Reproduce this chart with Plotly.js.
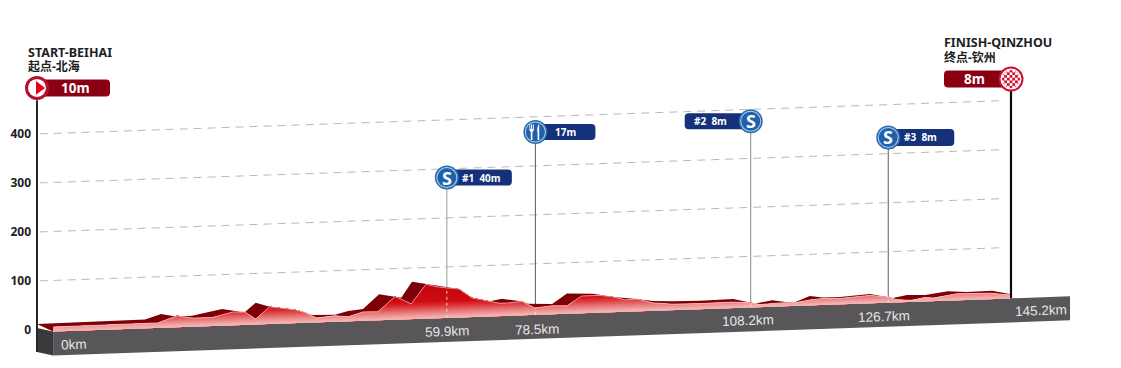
<!DOCTYPE html>
<html><head><meta charset="utf-8">
<script src="https://cdn.plot.ly/plotly-3.0.1.min.js"></script>
<style>html,body{margin:0;padding:0;background:#fff}#c{width:1121px;height:368px}</style>
</head><body><div id="c"></div>
<script>
// Values. Km along the drawn axis; metres above the tilted zero line.
const frontKm=[2.4,18,20.9,23.3,26.1,29.2,31,32.6,34.7,38.5,39.7,41.7,44.4,46.4,48.6,50.8,53.4,55.8,58,59.6,61.1,62.9,64.8,69,70.1,72.3,74.2,76.8,79,81.2,83.9,85.9,87.7,89.4,91.8,94.8,98.8,103.8,106.6,107.8,110.8,113,115.2,117.2,119.7,124.2,126.9,128.2,130.4,132.4,133.6,137.1,142.1,145];
const frontElev=[5,6,19,13,13,23,22,7,31,23,18,5,8,5,14,13,43,27,66,60,57,54,35,22,22,24,10,13,12,31,31,27,20,21,12,8,7,8,5,1,3,2,7,9,8,12,7,1,-1,4,2,9,8,3];
const backKm=[0,16.1,18.5,20.9,23.1,27.6,30.3,31,32.6,34.7,41.1,44.4,46.4,48.6,51,53.4,54.3,55.9,59.6,62.9,64.8,67.5,69.3,72.3,73.2,76.8,79,82.9,85.9,87.4,89.4,91.8,94.8,98.8,103.8,106.6,107.3,109.6,112.7,115.2,117.2,119.7,124.2,126.9,127.6,129.7,132.4,135.8,138.6,142.4,145];
const backElev=[12,14,24,17,18,30,23,22,40,31,11,10,17,20,49,43,40,72,62,54,35,27,31,24,19,17,37,35,27,25,21,16,14,13,14,5,4,9,2,15,11,11,15,7,5,10,9,15,12,13,5];
const yTicks=[0,100,200,300,400];
const stationKm=[61.1,74.3,106.4,126.9];
const stationGround=[57,10,5,7];
const stationHeight=[311,404,426,393];
const stationStem=['#9a9a9a','#5c5c5c','#888888','#5c5c5c'];
const stationLabels=['#1  40m','17m','#2  8m','#3  8m'];
const kmLabels=['0km','59.9km','78.5km','108.2km','126.7km','145.2km'];
const kmLabelX=[5.5,61.1,74.6,106,126.3,149.7];
const kmLabelY=[-29,-4,2,19,28,40];
const finishKm=145.2;
const SKEW=0.4723, FLOOR_TOP=-4, FLOOR_BOTTOM=-53, FLOOR_END=154;
const tilt=(k,e)=>e+SKEW*k;
const FONT='"Noto Sans","Noto Sans CJK SC",sans-serif';

const traces=[];
const poly=(xs,es,color)=>traces.push({type:'scatter',mode:'lines',x:xs,y:xs.map((k,i)=>tilt(k,es[i])),fill:'toself',fillcolor:color,line:{width:0},hoverinfo:'skip'});
const line=(xs,ys,color,width,dash)=>traces.push({type:'scatter',mode:'lines',x:xs,y:ys,line:{color,width,dash:dash||'solid'},hoverinfo:'skip'});
const mark=(x,y,sym,size,color)=>traces.push({type:'scatter',mode:'markers',x:[x],y:[y],marker:{symbol:sym,size,color,line:{width:0}},hoverinfo:'skip'});

// dashed elevation grid
yTicks.slice(1).forEach(v=>line([0.4,144.3],[tilt(0.4,v),tilt(144.3,v)],'#b8b8b8',1,'8px,6px'));
// stems behind the ridge
line([finishKm,finishKm],[490,tilt(finishKm,-4)],'#0c0c0c',2.2);
stationKm.forEach((k,i)=>line([k,k],[stationHeight[i],tilt(k,stationGround[i])],stationStem[i],1));
// floor
poly([0,2.4,2.4,0,0],[4,FLOOR_TOP,FLOOR_BOTTOM,-45,4],'#3b393c');
poly([2.4,FLOOR_END,FLOOR_END,2.4,2.4],[FLOOR_TOP,FLOOR_TOP,FLOOR_BOTTOM,FLOOR_BOTTOM,FLOOR_TOP],'#59565a');
// back ridge
const bx=backKm.concat([145,2.4,0]), be=backElev.concat([FLOOR_TOP,FLOOR_TOP,backElev[0]]);
poly(bx,be,'#7c0006');
// start pole on top of the floor
line([0,0],[469,tilt(0,-45)],'#26262a',2);
// front ridge clipped to a level, so the gradient follows the tilted floor
function clipped(level){
  const xs=[],es=[];
  frontKm.forEach((k,i)=>{
    if(i>0){const a=frontElev[i-1],b=frontElev[i];
      if((a-level)*(b-level)<0){xs.push(frontKm[i-1]+(level-a)/(b-a)*(k-frontKm[i-1]));es.push(level);}}
    xs.push(k);es.push(Math.min(frontElev[i],level));
  });
  xs.push(145,2.4,2.4);es.push(FLOOR_TOP,FLOOR_TOP,Math.min(frontElev[0],level));
  return [xs,es];
}
const stops=[[-4,[244,190,190]],[4,[238,155,155]],[12,[230,112,112]],[22,[220,54,58]],[32,[206,12,18]],[70,[194,6,14]]];
function colorAt(l){for(let i=1;i<stops.length;i++){if(l<=stops[i][0]){const t=(l-stops[i-1][0])/(stops[i][0]-stops[i-1][0]);const c=stops[i-1][1].map((v,j)=>Math.round(v+t*(stops[i][1][j]-v)));return `rgb(${c})`;}}return `rgb(${stops[stops.length-1][1]})`;}
for(let l=70;l>=-2;l-=2){const [x,e]=clipped(l);poly(x,e,colorAt(l));}
// highlight edge on the front ridge
line(frontKm,frontKm.map((k,i)=>tilt(k,frontElev[i])),'rgba(255,205,205,0.85)',0.8);
// dashed stems through the ridge
stationKm.forEach((k,i)=>line([k,k],[tilt(k,FLOOR_TOP),tilt(k,stationGround[i])],'rgba(255,225,225,0.85)',1,'3px,3px'));

// pill helper: pixel-sized around an anchor on the axes
function pill(xa,ya,x0,x1,h,color){
  const r=4;
  return {type:'path',xref:'x',yref:'y',xsizemode:'pixel',ysizemode:'pixel',xanchor:xa,yanchor:ya,fillcolor:color,line:{width:0},layer:'between',
    path:`M${x0+r},${-h} L${x1-r},${-h} Q${x1},${-h} ${x1},${-h+r} L${x1},${h-r} Q${x1},${h} ${x1-r},${h} L${x0+r},${h} Q${x0},${h} ${x0},${h-r} L${x0},${-h+r} Q${x0},${-h} ${x0+r},${-h} Z`};
}
const shapes=[
  pill(0,494,0,73,8.5,'#8a0012'),
  pill(finishKm,512,-67,0,8.5,'#8a0012'),
  pill(stationKm[0],stationHeight[0],0,65,8,'#15317a'),
  pill(stationKm[1],stationHeight[1],0,60,8,'#15317a'),
  pill(stationKm[2],stationHeight[2],-66,0,8,'#15317a'),
  pill(stationKm[3],stationHeight[3],0,66,8.5,'#15317a')
];
// station discs
stationKm.forEach((k,i)=>{
  mark(k,stationHeight[i],'circle',24,'#2a6bb0');
  mark(k,stationHeight[i],'circle',21,'#b5cde6');
  mark(k,stationHeight[i],'circle',19,'#1f62ab');
});
// start disc
mark(0,494,'circle',24,'#b3122c');
mark(0,494,'circle',18,'#ffffff');
mark(0.3,494,'triangle-right',12,'#e2001a');
// finish disc
mark(finishKm,512,'circle',25,'#d0102c');
mark(finishKm,512,'circle',21,'#ffffff');
mark(finishKm,512,'circle',18,'#d0102c');
// finish checks
for(let a=-3;a<=3;a++)for(let b=-3;b<=3;b++){
  if((a+b+6)%2===0&&a*a+b*b<=10){
    const s=2.7,x=a*s,y=b*s;
    shapes.push({type:'path',xref:'x',yref:'y',xsizemode:'pixel',ysizemode:'pixel',xanchor:finishKm,yanchor:512,layer:'above',fillcolor:'#fff',line:{width:0},
      path:`M${x-s/2},${y-s/2} L${x+s/2},${y-s/2} L${x+s/2},${y+s/2} L${x-s/2},${y+s/2} Z`});
  }
}
// cutlery icon
const cut=(path)=>shapes.push({type:'path',xref:'x',yref:'y',xsizemode:'pixel',ysizemode:'pixel',xanchor:stationKm[1],yanchor:stationHeight[1],layer:'above',fillcolor:'#fff',line:{width:0},path});
cut('M-4.6,-8 L-3,-8 L-3,0 L-1.6,1.5 L-1.6,7.5 L-2.4,7.5 L-2.4,3 L-3.2,3 L-3.2,7.5 L-4.4,7.5 L-4.4,3 L-5.2,3 L-5.2,7.5 L-6,7.5 L-6,1.5 L-4.6,0 Z');
cut('M2.2,-8 L3.8,-8 L3.8,8 C2.4,7 1.8,4 1.8,0.5 L2.2,0 Z');

const ann=(x,y,text,size,color,extra)=>Object.assign({xref:'x',yref:'y',x,y,text,showarrow:false,font:{family:FONT,size,color},xanchor:'center',yanchor:'middle'},extra||{});
const annotations=[
  ann(-1.6,567,'<b>START-BEIHAI</b>',12.5,'#1e1e1e',{xanchor:'left'}),
  ann(-1.6,538,'<b>起点-北海</b>',12,'#1e1e1e',{xanchor:'left'}),
  ann(134.9,586,'<b>FINISH-QINZHOU</b>',12.5,'#1e1e1e',{xanchor:'left'}),
  ann(134.9,556,'<b>终点-钦州</b>',12,'#1e1e1e',{xanchor:'left'}),
  ann(5.8,494,'<b>10m</b>',13.5,'#fff'),
  ann(139.7,512,'<b>8m</b>',13.5,'#fff')
];
const labelDx=[35,30,-40,32];
stationLabels.forEach((t,i)=>annotations.push(ann(stationKm[i],stationHeight[i],'<b>'+t+'</b>',10,'#fff',{xshift:labelDx[i]})));
stationKm.forEach((k,i)=>{ if(i!==1) annotations.push(ann(k,stationHeight[i],'<b>S</b>',18,'#fff')); });
kmLabels.forEach((t,i)=>annotations.push(ann(kmLabelX[i],kmLabelY[i],t,13.5,'#e6e6e6',{textangle:-2,font:{family:'"Liberation Sans",Arial,sans-serif',size:13.5,color:'#e6e6e6'}})));

const layout={
  width:1121,height:368,margin:{l:0,r:0,t:0,b:0},showlegend:false,hovermode:false,
  paper_bgcolor:'#fff',plot_bgcolor:'#fff',
  xaxis:{range:[-5.516,161.6],visible:false,fixedrange:true},
  yaxis:{range:[-77.55,673.47],anchor:'free',position:37/1121,tickmode:'array',tickvals:yTicks,ticktext:yTicks.map(String),
    ticks:'',showgrid:false,zeroline:false,showline:false,ticklabelstandoff:6,fixedrange:true,
    tickfont:{family:FONT,size:12,color:'#1e1e1e',weight:700}},
  shapes,annotations
};
Plotly.newPlot('c',traces,layout,{displayModeBar:false,staticPlot:true});
</script></body></html>
